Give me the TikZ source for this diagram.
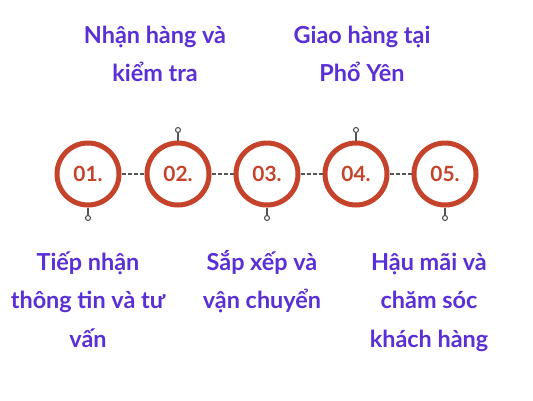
\documentclass[tikz,border=0pt]{standalone}
\usepackage{fontspec}
\setmainfont{Lato}[UprightFont={* Bold}]
\definecolor{ringred}{HTML}{C5432B}
\definecolor{labelpurple}{HTML}{5A2FD6}
\definecolor{dashgray}{HTML}{555555}
\begin{document}
\begin{tikzpicture}[x=1bp,y=-1bp,
  ring/.style={circle,draw=ringred,line width=5bp,minimum size=62bp,inner sep=0pt,
    text=ringred,font=\fontsize{21}{21}\selectfont},
  stem/.style={draw=dashgray,line width=1.1bp},
  knob/.style={circle,draw=dashgray,line width=1.1bp,fill=white,minimum size=5bp,inner sep=0pt},
  link/.style={draw=dashgray,line width=1.2bp,dash pattern=on 4bp off 2bp},
  lbl/.style={text=labelpurple,font=\fontsize{23.5}{38.5}\selectfont,align=center,inner sep=0pt,anchor=base}
]
\fill[white] (0,0) rectangle (533,400);
\useasboundingbox (0,0) rectangle (533,400);
\node[ring] (c1) at (88,174) {01.};
\node[ring] (c2) at (178,174) {02.};
\node[ring] (c3) at (267,174) {03.};
\node[ring] (c4) at (356,174) {04.};
\node[ring] (c5) at (445,174) {05.};
\draw[link] (c1) -- (c2);
\draw[link] (c2) -- (c3);
\draw[link] (c3) -- (c4);
\draw[link] (c4) -- (c5);
\node[knob] (k1) at (88,218) {};
\node[knob] (k2) at (178,130) {};
\node[knob] (k3) at (267,218) {};
\node[knob] (k4) at (356,130) {};
\node[knob] (k5) at (445,218) {};
\draw[stem] (c1.south) -- (k1);
\draw[stem] (c2.north) -- (k2);
\draw[stem] (c3.south) -- (k3);
\draw[stem] (c4.north) -- (k4);
\draw[stem] (c5.south) -- (k5);
\node[lbl] (t2) at (155,81.5) {Nhận hàng và\\kiểm tra};
\node[lbl] (t4) at (362,81.5) {Giao hàng tại\\Phổ Yên};
\node[lbl] (t1) at (88,347) {Tiếp nhận\\thông tin và tư\\vấn};
\node[lbl] (t3) at (262,308.5) {Sắp xếp và\\vận chuyển};
\node[lbl] (t5) at (429,347) {Hậu mãi và\\chăm sóc\\khách hàng};
\end{tikzpicture}
\end{document}
